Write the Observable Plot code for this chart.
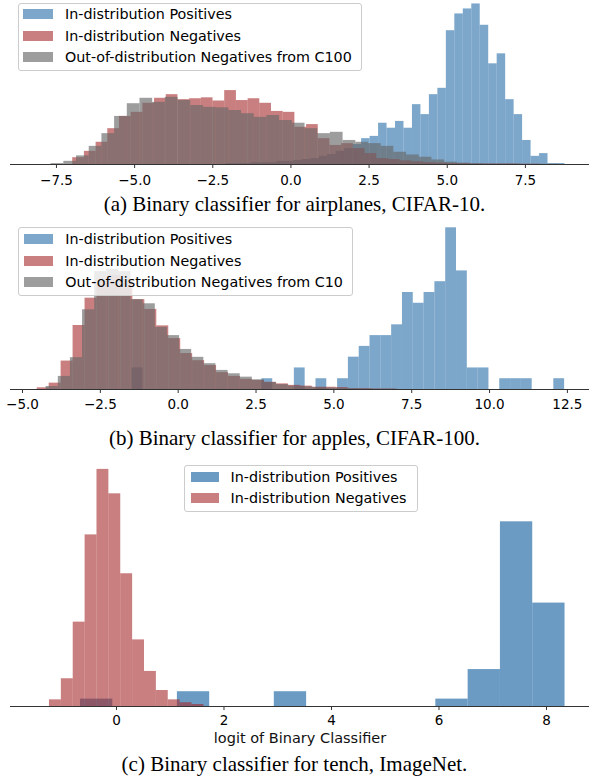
<!DOCTYPE html>
<html><head><meta charset="utf-8">
<script src="https://cdn.jsdelivr.net/npm/d3@7"></script>
<script src="https://cdn.jsdelivr.net/npm/@observablehq/plot@0.6"></script>
<style>
html,body{margin:0;padding:0;background:#fff;}
#fig{position:relative;width:589px;height:778px;overflow:hidden;}
.panel{position:absolute;left:0;}
.caption{position:absolute;left:0;width:589px;text-align:center;font-family:"Liberation Serif","Times New Roman",serif;font-size:21px;line-height:24px;color:#000;white-space:nowrap;}
.legend{position:absolute;box-sizing:border-box;border:1px solid #cccccc;border-radius:3px;background:rgba(255,255,255,0.8);}
.sw{position:absolute;height:10px;}
.lt{position:absolute;font-family:"DejaVu Sans",sans-serif;font-size:14.3px;line-height:16.6px;white-space:nowrap;color:#000;}
</style></head><body><div id="fig"></div>
<script>
// ---------- DATA ----------
// (a) airplanes, CIFAR-10 — density histograms (40 bins each)
const aLabels = ["In-distribution Positives", "In-distribution Negatives", "Out-of-distribution Negatives from C100"];
const aPosStart = -2.075, aPosWidth = 0.271;
const aPosDensity = [0.002,0.002,0.002,0.004,0.004,0.004,0.007,0.007,0.009,0.011,0.013,0.018,0.022,0.029,0.035,0.044,
  0.057,0.062,0.091,0.080,0.095,0.080,0.132,0.110,0.154,0.168,0.295,0.332,0.343,0.354,0.307,0.222,0.244,0.143,0.110,0.053,0.018,0.024,0.002,0.002];
const aNegStart = -6.98, aNegWidth = 0.374;
const aNegDensity = [0.015,0.029,0.049,0.079,0.106,0.115,0.135,0.146,0.154,0.143,0.145,0.147,0.140,0.163,0.141,0.145,0.135,0.117,0.115,0.082,
  0.088,0.057,0.042,0.046,0.035,0.024,0.013,0.011,0.008,0.006,0.004,0.003,0.002,0.002,0.001,0.001,0.001,0.001,0.0005,0.0005];
const aOodStart = -7.67, aOodWidth = 0.406;
const aOodDensity = [0.002,0.007,0.019,0.040,0.068,0.106,0.134,0.146,0.137,0.148,0.141,0.130,0.126,0.125,0.119,0.112,0.104,0.108,0.097,0.091,
  0.079,0.068,0.071,0.053,0.049,0.046,0.040,0.027,0.021,0.016,0.010,0.005,0.003,0.002,0.001,0.001,0.001,0.0005,0.0005,0.0005];
const aTicks = [-7.5, -5.0, -2.5, 0.0, 2.5, 5.0, 7.5];
const aCaption = "(a) Binary classifier for airplanes, CIFAR-10.";

// (b) apples, CIFAR-100
const bLabels = ["In-distribution Positives", "In-distribution Negatives", "Out-of-distribution Negatives from C10"];
const bPosStart = -1.477, bPosWidth = 0.3472;
const bPosCounts = [2,0,0,0,0,0,0,0,0,0,0,0,1,0,0,2,0,1,0,1,3,4,5,5,6,9,8,9,10,15,11,2,2,0,1,1,1,0,0,1];
const bNegStart = -4.527, bNegWidth = 0.384;
const bNegDensity = [0.0045,0.017,0.076,0.171,0.244,0.289,0.305,0.294,0.240,0.214,0.170,0.136,0.096,0.077,0.064,
  0.045,0.035,0.027,0.024,0.019,0.015,0.011,0.009,0.006,0.006,0.005,0.002,0.002,0.001,0.001];
const bOodStart = -4.24, bOodWidth = 0.3895;
const bOodDensity = [0.008,0.035,0.085,0.213,0.315,0.321,0.315,0.240,0.229,0.166,0.144,0.107,0.086,0.069,0.051,
  0.042,0.033,0.026,0.019,0.013,0.009,0.007,0.005,0.004,0.003,0.002,0.001,0.001,0.001];
const bTicks = [-5.0, -2.5, 0.0, 2.5, 5.0, 7.5, 10.0, 12.5];
const bCaption = "(b) Binary classifier for apples, CIFAR-100.";

// (c) tench, ImageNet
const cLabels = ["In-distribution Positives", "In-distribution Negatives"];
const cPosStart = -0.67, cPosWidth = 0.601;
const cPosCounts = [1,0,0,2,0,0,2,0,0,0,0,1,5,25,14];
const cNegStart = -1.247, cNegWidth = 0.221;
const cNegDensity = [0.030,0.125,0.380,0.773,1.068,0.958,0.598,0.300,0.158,0.072,0.030,0.017,0.009];
const cTicks = [0, 2, 4, 6, 8];
const cXLabel = "logit of Binary Classifier";
const cCaption = "(c) Binary classifier for tench, ImageNet.";

// ---------- HELPERS ----------
const BLUE = "#4682b4", RED = "#a52a2a", GRAY = "#696969";
function bins(start, width, values) {
  return values.map((v, i) => ({x1: start + i * width, x2: start + (i + 1) * width, y: v}));
}
function countsToDensity(counts, width) {
  const n = d3.sum(counts);
  return counts.map(c => c / (n * width));
}
const fmt1 = d => (d < 0 ? "\u2212" : "") + Math.abs(d).toFixed(1);
const fmt0 = d => (d < 0 ? "\u2212" : "") + String(Math.abs(d));

function makePanel({height, marginBottom, yMax, xDomain, ticks, tickFormat, tickPadding, layers, xLabel, labelDy}) {
  const marks = layers.map(L => Plot.rect(L.data, {x1: "x1", x2: "x2", y1: 0, y2: "y", fill: L.color, fillOpacity: L.opacity, inset: 0}));
  marks.push(Plot.ruleY([0], {stroke: "#333", strokeWidth: 1}));
  marks.push(Plot.axisX({ticks, tickSize: 4, tickPadding, tickFormat, stroke: "#333", fill: "#000", fontSize: 13.5, label: null}));
  if (xLabel) marks.push(Plot.text([xLabel], {frameAnchor: "bottom", dy: labelDy, lineAnchor: "middle", fontSize: 14.5, fill: "#111"}));
  return Plot.plot({
    width: 589, height, marginLeft: 10, marginRight: 0, marginTop: 0, marginBottom,
    x: {domain: xDomain},
    y: {domain: [0, yMax], axis: null},
    style: {fontFamily: "DejaVu Sans, sans-serif", fontSize: "13.5px", background: "transparent", overflow: "visible"},
    marks
  });
}

const fig = document.getElementById("fig");
function place(el, top) { el.classList.add("panel"); el.style.top = top + "px"; fig.appendChild(el); }
function caption(text, top) {
  const d = document.createElement("div"); d.className = "caption"; d.style.top = top + "px"; d.textContent = text; fig.appendChild(d);
}
function legend(items, box) {
  const L = document.createElement("div"); L.className = "legend";
  Object.assign(L.style, {left: box.left + "px", top: box.top + "px", width: box.width + "px", height: box.height + "px"});
  items.forEach((it, i) => {
    const cy = box.rows[i];
    const s = document.createElement("div"); s.className = "sw";
    Object.assign(s.style, {left: box.swLeft + "px", width: box.swWidth + "px", top: (cy - 5) + "px", background: it.color, opacity: it.opacity});
    const t = document.createElement("div"); t.className = "lt"; t.textContent = it.label;
    Object.assign(t.style, {left: box.textLeft + "px", top: (cy - 8.1) + "px"});
    L.appendChild(s); L.appendChild(t);
  });
  fig.appendChild(L);
}

// ---------- PANEL A ----------
const aLayers = [
  {data: bins(aPosStart, aPosWidth, aPosDensity), color: BLUE, opacity: 0.7, label: aLabels[0]},
  {data: bins(aNegStart, aNegWidth, aNegDensity), color: RED, opacity: 0.6, label: aLabels[1]},
  {data: bins(aOodStart, aOodWidth, aOodDensity), color: GRAY, opacity: 0.65, label: aLabels[2]}
];
place(makePanel({height: 190, marginBottom: 26, yMax: 0.3616, xDomain: [-8.97, 9.55], ticks: aTicks, tickFormat: fmt1, tickPadding: 6.5, layers: aLayers}), 0);
legend(aLayers, {left: 18, top: 2.5, width: 344, height: 68.5, swLeft: 4.3, swWidth: 29.3, textLeft: 46, rows: [10.8, 32.2, 53.8]});
caption(aCaption, 192);

// ---------- PANEL B ----------
const bLayers = [
  {data: bins(bPosStart, bPosWidth, countsToDensity(bPosCounts, bPosWidth)), color: BLUE, opacity: 0.7, label: bLabels[0]},
  {data: bins(bNegStart, bNegWidth, bNegDensity), color: RED, opacity: 0.6, label: bLabels[1]},
  {data: bins(bOodStart, bOodWidth, bOodDensity), color: GRAY, opacity: 0.65, label: bLabels[2]}
];
place(makePanel({height: 199, marginBottom: 25, yMax: 0.4649, xDomain: [-5.385, 13.21], ticks: bTicks, tickFormat: fmt1, tickPadding: 5.5, layers: bLayers}), 215);
legend(bLayers, {left: 18.3, top: 227.3, width: 335, height: 68.7, swLeft: 4.3, swWidth: 29.3, textLeft: 46, rows: [11, 32.4, 54]});
caption(bCaption, 426);

// ---------- PANEL C ----------
const cLayers = [
  {data: bins(cPosStart, cPosWidth, countsToDensity(cPosCounts, cPosWidth)), color: BLUE, opacity: 0.8, label: cLabels[0]},
  {data: bins(cNegStart, cNegWidth, cNegDensity), color: RED, opacity: 0.6, label: cLabels[1]}
];
place(makePanel({height: 293, marginBottom: 42, yMax: 1.1306, xDomain: [-1.972, 8.8], ticks: cTicks, tickFormat: fmt0, tickPadding: 5, layers: cLayers, xLabel: cXLabel, labelDy: 32}), 455);
legend(cLayers, {left: 184.3, top: 465, width: 233.4, height: 46.7, swLeft: 5.7, swWidth: 28.3, textLeft: 45.2, rows: [10.7, 32.3]});
caption(cCaption, 752);
</script></body></html>
